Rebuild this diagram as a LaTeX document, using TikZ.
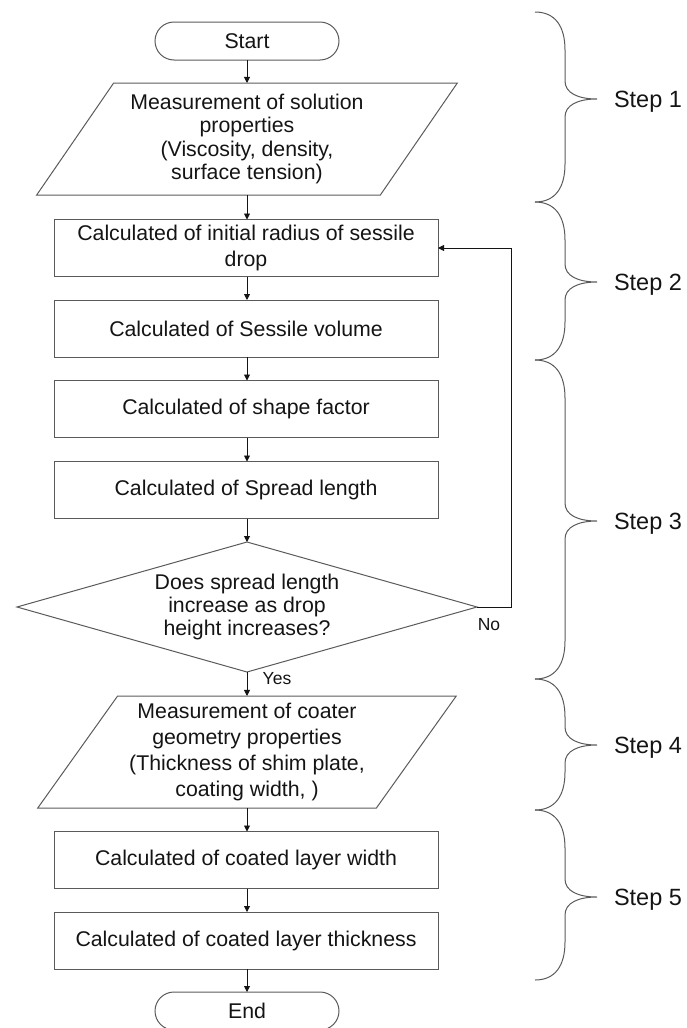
\documentclass[tikz,border=0pt]{standalone}
\usepackage{fontspec}
\setmainfont{Liberation Sans}
\usetikzlibrary{arrows.meta,shapes.geometric,calc}
\definecolor{edge}{RGB}{90,90,90}
\definecolor{ink}{RGB}{20,20,20}
\newcommand\stepbrace[3]{%
  \draw[bracestyle] (535,#1) .. controls (555,#1) and (565,{#1+14}) .. (565,{#1+38})
    -- (565,{#2-18}) .. controls (565,{#2-6}) and (578,#2) .. (597,#2)
    .. controls (578,#2) and (565,{#2+6}) .. (565,{#2+18})
    -- (565,{#3-38}) .. controls (565,{#3-14}) and (555,#3) .. (535,#3);}
\begin{document}
\begin{tikzpicture}[x=1pt,y=-1pt,
  every node/.style={text=ink, inner sep=0pt, outer sep=0pt},
  base/.style={draw=edge, line width=1pt, font=\fontsize{21.3}{25.7}\selectfont, align=center},
  tight/.style={font=\fontsize{21.3}{23.3}\selectfont},
  term/.style={base, rectangle, rounded corners=19pt, minimum width=184pt, minimum height=38pt},
  proc/.style={base, rectangle, minimum width=384pt, minimum height=57pt},
  io/.style={base, trapezium, trapezium left angle=53.13, trapezium right angle=126.87,
     trapezium stretches=true, minimum width=421pt, minimum height=112pt},
  decision/.style={base, diamond, aspect=3.54, minimum width=460pt, minimum height=130pt},
  flow/.style={draw=ink, line width=0.9pt, -{Triangle[length=6pt,width=6pt]}},
  bracestyle/.style={draw=edge, line width=1pt},
  steplabel/.style={font=\fontsize{23.5}{28}\selectfont, anchor=base west},
  small/.style={font=\fontsize{17.5}{21}\selectfont}
]
\useasboundingbox (0,0) rectangle (686,1028);
\clip (0,0) rectangle (686,1028);

\node[term] (start) at (247,41) {Start};
\node[io, tight] (in1) at (247,139) {Measurement of solution\\properties\\(Viscosity, density,\\surface tension)};
\node[proc] (r1) at (246,248) {Calculated of initial radius of sessile\\drop};
\node[proc] (r2) at (246,328.5) {Calculated of Sessile volume};
\node[proc] (r3) at (246,409) {Calculated of shape factor};
\node[proc] (r4) at (246,490) {Calculated of Spread length};
\node[decision, tight] (dec) at (247,607) {Does spread length\\increase as drop\\height increases?};
\node[io] (in2) at (247,752) {Measurement of coater\\geometry properties\\(Thickness of shim plate,\\coating width, )};
\node[proc] (r5) at (246,860) {Calculated of coated layer width};
\node[proc] (r6) at (246,940.5) {Calculated of coated layer thickness};
\node[term] (end) at (247,1011) {End};

\draw[flow] (start.south) -- (start.south |- in1.north);
\draw[flow] (start.south |- in1.south) -- (start.south |- r1.north);
\draw[flow] (start.south |- r1.south) -- (start.south |- r2.north);
\draw[flow] (start.south |- r2.south) -- (start.south |- r3.north);
\draw[flow] (start.south |- r3.south) -- (start.south |- r4.north);
\draw[flow] (start.south |- r4.south) -- (dec.north);
\draw[flow] (dec.south) -- (dec.south |- in2.north);
\draw[flow] (dec.south |- in2.south) -- (dec.south |- r5.north);
\draw[flow] (dec.south |- r5.south) -- (dec.south |- r6.north);
\draw[flow] (dec.south |- r6.south) -- (end.north);
\draw[flow] (dec.east) -- ++(34,0) |- (r1.east);

\node[small] (no) at (489,625) {No};
\node[small] (yes) at (277,679) {Yes};

\stepbrace{12}{99}{202}
\stepbrace{202}{282}{360}
\stepbrace{360}{521}{679}
\stepbrace{679}{745}{810}
\stepbrace{810}{897}{980}

\node[steplabel] (s1) at (614,107) {Step 1};
\node[steplabel] (s2) at (614,290) {Step 2};
\node[steplabel] (s3) at (614,529) {Step 3};
\node[steplabel] (s4) at (614,753) {Step 4};
\node[steplabel] (s5) at (614,905) {Step 5};
\end{tikzpicture}
\end{document}
